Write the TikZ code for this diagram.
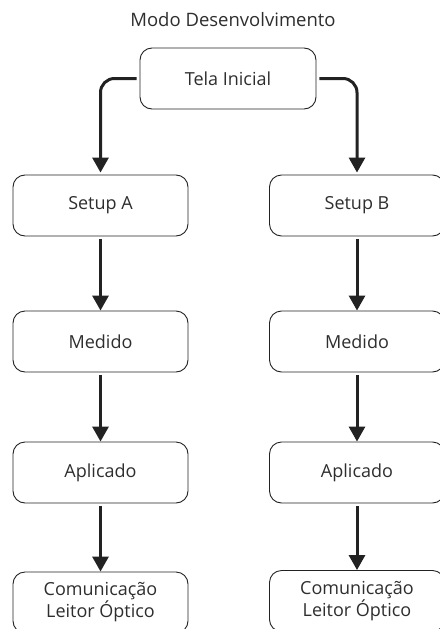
\documentclass[tikz,border=0pt]{standalone}
\usepackage{fontspec}
\setmainfont{Open Sans}
\usetikzlibrary{arrows.meta}
\definecolor{txt}{HTML}{2E2E2E}
\definecolor{ln}{HTML}{222222}
\begin{document}
\begin{tikzpicture}[x=1pt,y=1pt,
  box/.style={draw=ln, line width=0.9pt, rounded corners=12pt, minimum width=175pt, minimum height=61pt, inner sep=0pt, align=center, text=txt, font=\fontsize{18}{22}\selectfont},
  flow/.style={draw=ln, line width=3pt, -{Triangle[length=15pt,width=16pt]}, shorten <=3pt}
]
\useasboundingbox (0,0) rectangle (439,-629);
\node[text=txt, font=\fontsize{18.5}{22}\selectfont] (title) at (233,-20) {Modo Desenvolvimento};
\node[box, minimum width=176pt] (tela) at (228,-78.5) {Tela Inicial};
\node[box] (sa) at (100.5,-205.5) {Setup A};
\node[box] (sb) at (357,-205.5) {Setup B};
\node[box] (ma) at (100.5,-341.5) {Medido};
\node[box] (mb) at (357,-341.5) {Medido};
\node[box] (aa) at (100.5,-472.5) {Aplicado};
\node[box] (ab) at (357,-472.5) {Aplicado};
\node[box] (ca) at (100.5,-602.5) {Comunicação\\Leitor Óptico};
\node[box] (cb) at (357,-601) {Comunicação\\Leitor Óptico};
\draw[flow, rounded corners=14pt] (tela.west) -| ([yshift=2pt]sa.north);
\draw[flow, rounded corners=14pt] (tela.east) -| ([yshift=2pt]sb.north);
\draw[flow] (sa) -- (ma);
\draw[flow] (ma) -- (aa);
\draw[flow] (aa) -- (ca);
\draw[flow] (sb) -- (mb);
\draw[flow] (mb) -- (ab);
\draw[flow] (ab) -- (cb);
\end{tikzpicture}
\end{document}
